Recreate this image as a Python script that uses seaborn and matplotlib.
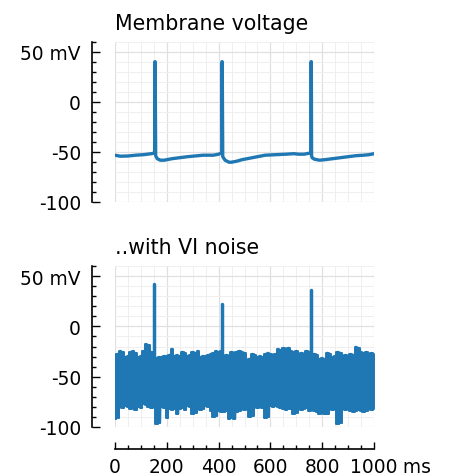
import matplotlib
matplotlib.use("Agg")
import matplotlib.pyplot as plt
from matplotlib.ticker import MultipleLocator
import numpy as np
import pandas as pd
import seaborn as sns

# ---- membrane voltage trace (ms, mV) ----
voltage_t = [0, 20, 50, 80, 110, 140, 150, 153, 154, 155, 157, 163, 175, 190, 220,
             250, 280, 300, 340, 380, 400, 410, 412, 413, 414, 416, 425, 440, 450,
             470, 490, 520, 550, 580, 620, 660, 690, 710, 730, 750, 756, 757, 758,
             759, 761, 770, 790, 810, 840, 870, 900, 930, 960, 980, 1000]
voltage_mv = [-53.5, -54.5, -54.3, -53.5, -53, -52, -51.5, -50.5, 40, 40, -54, -57,
              -58.5, -58.5, -57, -56, -55, -54.5, -53.5, -53.5, -52.5, -51.5, -51,
              40, 40, -55, -58.5, -60.5, -60.5, -59.5, -58, -56.5, -55, -53.5, -53,
              -52.5, -52, -52.5, -52.5, -51.5, -51, 40, 40, -54, -56, -57.5, -58.5,
              -58, -57, -56, -55, -54, -53.5, -53, -52]

# ---- noisy trace: upper / lower excursions every 10 ms ----
noise_t = list(range(0, 1001, 10))
noise_upper = [-28, -27, -24, -25, -30, -29, -25, -24, -26, -30,
               -29, -24, -18, -19, -25, -26, -31, -30, -30, -29,
               -29, -28, -22, -29, -28, -29, -25, -26, -29, -28,
               -25, -26, -24, -30, -29, -29, -28, -27, -26, -24,
               -25, -24, -29, -28, -29, -25, -26, -25, -24, -25,
               -26, -33, -32, -27, -28, -30, -29, -30, -27, -26,
               -27, -28, -27, -22, -23, -21, -22, -21, -24, -25,
               -24, -27, -26, -27, -24, -25, -28, -27, -28, -32,
               -31, -32, -26, -27, -30, -29, -25, -26, -29, -28,
               -29, -27, -28, -20, -21, -25, -26, -25, -27, -26,
               -27]
noise_lower = [-92, -91, -80, -81, -79, -80, -82, -81, -83, -80,
               -81, -77, -78, -80, -81, -80, -97, -96, -80, -81,
               -91, -82, -83, -82, -87, -82, -81, -83, -79, -80,
               -87, -86, -82, -83, -82, -79, -80, -84, -90, -89,
               -84, -85, -85, -84, -92, -91, -92, -85, -84, -82,
               -83, -82, -90, -89, -80, -81, -80, -81, -91, -90,
               -79, -80, -79, -80, -81, -82, -83, -82, -82, -87,
               -86, -82, -83, -82, -81, -84, -83, -84, -85, -87,
               -86, -87, -87, -82, -83, -82, -97, -96, -82, -83,
               -82, -84, -85, -84, -83, -84, -85, -84, -82, -83,
               -82]

# spikes riding on the noisy trace
spike_t = [152, 414, 757]
spike_peak = [42, 22, 36.5]
spike_base = -50

ytick_values = [-100, -50, 0, 50]
ytick_labels = ["-100", "-50", "0", "50 mV"]
xtick_values = [0, 200, 400, 600, 800, 1000]
xtick_labels = ["0", "200", "400", "600", "800", "1000"]
x_unit = " ms"

titles = ["Membrane voltage", "..with VI noise"]

sns.set_theme(style="white")
plt.rcParams["font.family"] = ["DejaVu Sans"]
plt.rcParams["path.simplify"] = False

BLUE = "#1f77b4"
TICK_FS = 13.4
TITLE_FS = 14.8

W, H = 449, 477
fig = plt.figure(figsize=(W / 100, H / 100), dpi=100)
ax1 = fig.add_axes([115 / W, 1 - 202.7 / H, 259 / W, 160 / H])
ax2 = fig.add_axes([115 / W, 1 - 428 / H, 259 / W, 161 / H])

# clean trace
df_v = pd.DataFrame({"t": voltage_t, "v": voltage_mv})
sns.lineplot(data=df_v, x="t", y="v", sort=False, estimator=None, color=BLUE,
             lw=2.4, ax=ax1, legend=False)

# noisy trace: the dense oscillation fills the band between the excursions
ax2.fill_between(noise_t, noise_lower, noise_upper, step="mid", color=BLUE,
                 lw=1.4, edgecolor=BLUE, zorder=2)
zz_t, zz_v = [], []
for t, hi, lo in zip(noise_t, noise_upper, noise_lower):
    zz_t += [t, min(t + 5, 1000)]
    zz_v += [hi, lo]
df_n = pd.DataFrame({"t": zz_t, "v": zz_v})
sns.lineplot(data=df_n, x="t", y="v", sort=False, estimator=None, color=BLUE,
             lw=1.2, ax=ax2, legend=False, solid_joinstyle="round")
for st, sp in zip(spike_t, spike_peak):
    df_s = pd.DataFrame({"t": [st, st], "v": [spike_base, sp]})
    sns.lineplot(data=df_s, x="t", y="v", sort=False, estimator=None, color=BLUE,
                 lw=2.5, ax=ax2, legend=False)


def style_axes(ax, title, show_x):
    ax.set_xlim(0, 1000)
    ax.set_ylim(-100, 60)
    ax.set_xlabel("")
    ax.set_ylabel("")
    ax.set_xticks(xtick_values, labels=xtick_labels)
    ax.xaxis.set_minor_locator(MultipleLocator(50))
    ax.set_yticks(ytick_values, labels=ytick_labels)
    ax.yaxis.set_minor_locator(MultipleLocator(10))
    ax.grid(True, which="major", color="#e0e0e0", lw=0.9)
    ax.grid(True, which="minor", color="#efefef", lw=0.7)
    ax.set_axisbelow(True)
    for s in ("top", "right"):
        ax.spines[s].set_visible(False)
    ax.spines["left"].set_position(("outward", 16.5))
    ax.spines["left"].set_color("black")
    ax.spines["left"].set_linewidth(1.2)
    ax.tick_params(axis="y", which="both", left=True, direction="in",
                   color="black", width=1.0, labelsize=TICK_FS, labelcolor="black",
                   pad=8)
    ax.tick_params(axis="y", which="major", length=5.5)
    ax.tick_params(axis="y", which="minor", length=3.2)
    if show_x:
        ax.spines["bottom"].set_position(("outward", 15.8))
        ax.spines["bottom"].set_color("black")
        ax.spines["bottom"].set_linewidth(1.2)
        ax.tick_params(axis="x", which="both", bottom=True, direction="in",
                       color="black", width=1.0, labelsize=TICK_FS,
                       labelcolor="black", pad=5.5)
        ax.tick_params(axis="x", which="major", length=5)
        ax.tick_params(axis="x", which="minor", length=3)
    else:
        ax.spines["bottom"].set_visible(False)
        ax.tick_params(axis="x", which="both", bottom=False, length=0,
                       labelbottom=False)
    ax.set_title(title, loc="left", fontsize=TITLE_FS, color="black", pad=9.5)


style_axes(ax1, titles[0], show_x=False)
style_axes(ax2, titles[1], show_x=True)

# unit after the last x tick label
ax2.annotate(x_unit, xy=(1000, 0), xycoords=ax2.get_xaxis_transform(),
             xytext=(16.5, -(15.8 + 5.5)), textcoords="offset points",
             ha="left", va="top", fontsize=TICK_FS, color="black")

fig.savefig("out.png", dpi=100)
